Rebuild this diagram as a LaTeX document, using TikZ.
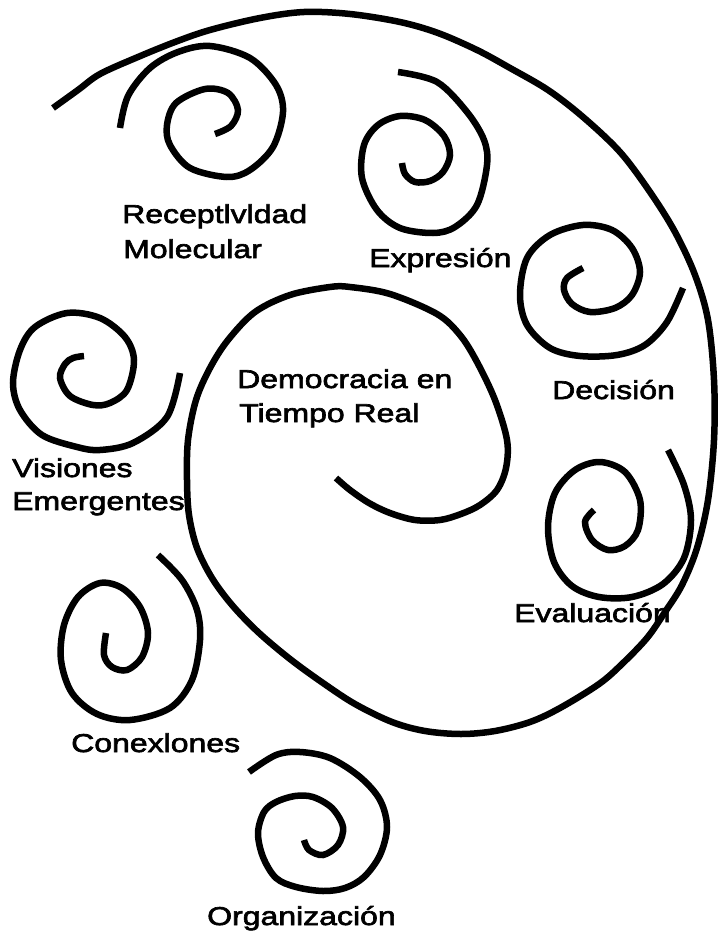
\documentclass[tikz,border=0pt]{standalone}
\usepackage{fontspec}
\setmainfont{Liberation Sans}[FakeStretch=1.24,FakeBold=2.5]
\begin{document}
\begin{tikzpicture}[x=1pt,y=-1pt,
  spir/.style={draw=black, line width=6.5pt},
  lbl/.style={anchor=base west, inner sep=0pt, font=\fontsize{25.8}{30}\selectfont}]
\useasboundingbox[fill=white] (0,0) rectangle (721,933);

% labels
\node[lbl] (recep) at (122,223) {Receptlvldad};
\node[lbl] (molec) at (123,258) {Molecular};
\node[lbl] (expr) at (369,267) {Expresión};
\node[lbl] (demo) at (237,388) {Democracia en};
\node[lbl] (tiempo) at (239,422) {Tiempo Real};
\node[lbl] (deci) at (552,399) {Decisión};
\node[lbl] (vis) at (12,477) {Visiones};
\node[lbl] (emer) at (12,510) {Emergentes};
\node[lbl] (eval) at (514,622) {Evaluación};
\node[lbl] (conex) at (71,752) {Conexlones};
\node[lbl] (organ) at (207,925) {Organización};

% big spiral
\draw[spir] plot[smooth, tension=0.55] coordinates {
 (53,108) (78,90) (100,74) (138,57) (175,42) (210,30) (260,18) (304,12)
 (350,14) (400,22) (438,33) (477,50) (510,68) (548,90) (583,117) (620,152)
 (650,192) (675,232) (695,275) (708,320) (714,380) (714,440) (708,500)
 (697,548) (682,585) (665,612) (647,638) (622,664) (599,684) (560,708)
 (530,722) (495,731) (461,734) (425,731) (392,722) (355,704) (323,683)
 (290,659) (258,632) (232,605) (212,578) (197,548) (189,515) (187,480)
 (188,440) (196,400) (210,368) (228,340) (255,312) (290,295) (330,287)
 (350,287) (390,294) (437,314) (460,335) (477,362) (495,400) (507,440)
 (506,468) (497,490) (480,505) (461,514) (440,520) (415,520) (390,513)
 (369,503) (350,490) (336,478)};

% Receptividad Molecular
\draw[spir] plot[smooth, tension=0.55] coordinates {
 (120,128) (128,96) (150,68) (178,52) (210,46) (250,58) (276,85) (283,112)
 (273,147) (250,170) (227,177) (190,168) (170,145) (167,125) (176,103)
 (205,89) (228,93) (238,110) (231,126) (215,134)};

% Expresion
\draw[spir] plot[smooth, tension=0.55] coordinates {
 (398,72) (437,82) (467,112) (484,140) (487,165) (477,205) (455,227)
 (433,233) (400,228) (377,210) (362,178) (364,145) (378,125) (400,116)
 (425,120) (444,136) (450,155) (443,172) (430,181) (415,182) (405,174)
 (402,163)};

% Decision
\draw[spir] plot[smooth, tension=0.55] coordinates {
 (683,288) (667,322) (645,345) (617,355) (580,356) (550,348) (527,325)
 (520,295) (527,258) (550,235) (583,225) (612,230) (632,248) (640,272)
 (632,295) (615,308) (590,312) (572,304) (564,290) (567,278) (583,268)};

% Visiones Emergentes
\draw[spir] plot[smooth, tension=0.55] coordinates {
 (180,373) (167,417) (133,443) (100,450) (77,447) (42,435) (20,410)
 (13,383) (20,350) (35,327) (67,313) (100,318) (125,337) (134,360)
 (127,390) (110,403) (93,405) (70,396) (60,378) (65,364) (73,358) (84,356)};

% Conexiones
\draw[spir] plot[smooth, tension=0.55] coordinates {
 (158,555) (182,580) (197,610) (200,640) (192,680) (170,708) (130,720)
 (97,714) (72,693) (61,660) (64,625) (78,597) (100,583) (122,588)
 (140,607) (148,633) (142,657) (127,670) (112,667) (104,655) (106,633)};

% Organizacion
\draw[spir] plot[smooth, tension=0.55] coordinates {
 (249,772) (276,755) (300,752) (330,758) (360,777) (380,800) (387,827)
 (380,855) (364,877) (345,888) (323,891) (296,887) (276,878) (263,857)
 (258,833) (264,812) (276,802) (295,796) (313,797) (332,808) (343,827)
 (338,845) (323,855) (309,850) (304,840)};

% Evaluacion
\draw[spir] plot[smooth, tension=0.55] coordinates {
 (668,450) (684,485) (691,520) (684,558) (663,584) (632,597) (599,597)
 (572,586) (554,562) (548,527) (555,493) (575,470) (600,462) (625,472)
 (640,500) (638,530) (625,546) (608,550) (592,540) (585,522) (594,510)};
\end{tikzpicture}
\end{document}
